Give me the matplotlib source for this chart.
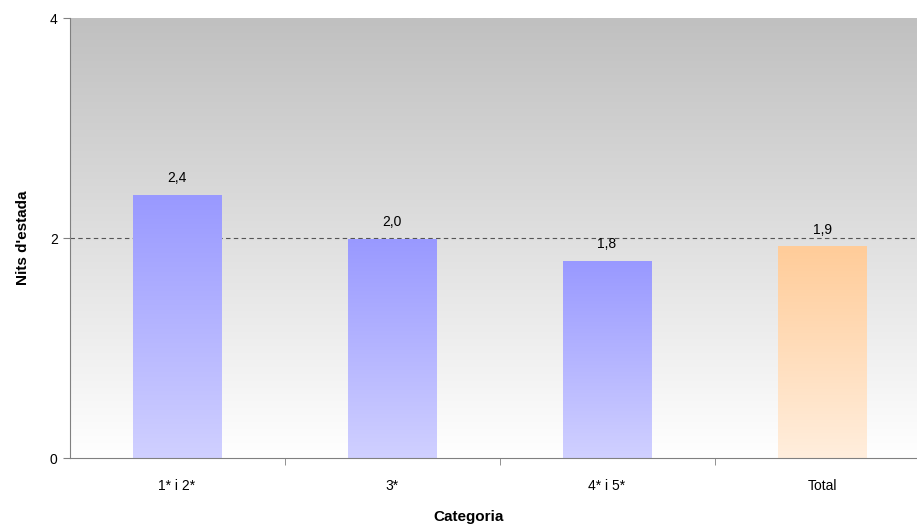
import matplotlib
matplotlib.use("Agg")
import matplotlib.pyplot as plt
import numpy as np
from matplotlib.colors import LinearSegmentedColormap

categories = ["1* i 2*", "3*", "4* i 5*", "Total"]
values = [2.39, 1.99, 1.79, 1.92]
labels = ["2,4", "2,0", "1,8", "1,9"]

plt.rcParams['font.family'] = ['Liberation Sans', 'DejaVu Sans']
W, H = 917, 525
fig = plt.figure(figsize=(W/100, H/100), dpi=100)
left, right, top, bottom = 69.5, 929.5, 18, 458
ax = fig.add_axes([left/W, 1-bottom/H, (right-left)/W, (bottom-top)/H])
ax.set_xlim(-0.5, 3.5)
ax.set_ylim(0, 4)

grad = np.linspace(0, 1, 256).reshape(-1, 1)
bg = LinearSegmentedColormap.from_list("bg", ["#ffffff", "#c0c0c0"])
ax.imshow(grad, aspect='auto', cmap=bg, extent=(-0.5, 3.5, 0, 4), origin='lower', zorder=0)

blue = LinearSegmentedColormap.from_list("b", ["#d0d0ff", "#9999ff"])
orange = LinearSegmentedColormap.from_list("o", ["#ffeedd", "#ffcc99"])
w = 0.41
for i, v in enumerate(values):
    cm = orange if categories[i] == "Total" else blue
    ax.imshow(grad, aspect='auto', cmap=cm, extent=(i-w/2, i+w/2, 0, v), origin='lower', zorder=2)
    ax.text(i, v+0.09, labels[i], ha='center', va='bottom', fontsize=10, zorder=3)

ax.axhline(2, color='#555555', lw=0.8, ls=(0, (4, 3)), zorder=1)
ax.set_xticks(range(4))
ax.set_xticklabels(categories, fontsize=10)
ax.set_xticks([0.5, 1.5, 2.5], minor=True)
ax.tick_params(axis='x', which='major', length=0, pad=15)
ax.tick_params(axis='x', which='minor', length=5, color='#808080')
ax.set_yticks([0, 2, 4])
ax.tick_params(axis='y', length=5, color='#808080', labelsize=10)
for s in ['top', 'right']:
    ax.spines[s].set_visible(False)
for s in ['left', 'bottom']:
    ax.spines[s].set_color('#808080')
fig.text(469/W, 1-517/H, "Categoria", fontsize=11, fontweight='bold', ha='center', va='center')
ax.set_ylabel("Nits d'estada", fontsize=11, fontweight='bold', labelpad=14)
fig.savefig("out.png", dpi=100)
